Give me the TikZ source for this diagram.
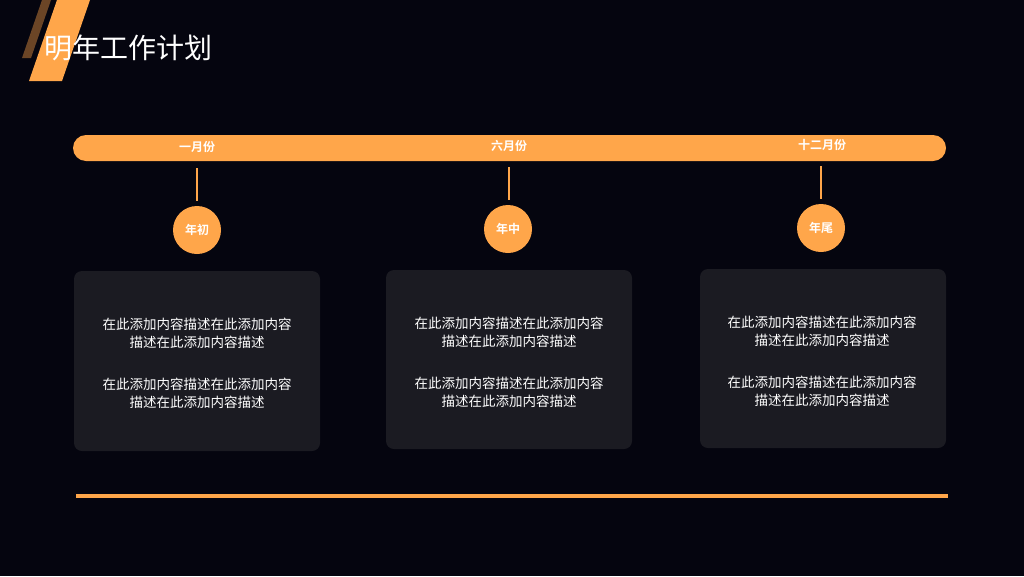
\documentclass[tikz,border=0pt]{standalone}
\usepackage{fontspec}
\setmainfont{Noto Sans CJK SC}[BoldFont={* Bold}]
\definecolor{bgdark}{HTML}{05050F}
\definecolor{planorange}{HTML}{FFA64A}
\definecolor{planbrown}{HTML}{6B4526}
\definecolor{cardgray}{HTML}{1B1B22}

\begin{document}
\begin{tikzpicture}[x=1pt,y=-1pt]
		\tikzstyle {month label} = [text=white, font=\bfseries\fontsize{12}{14}\selectfont]
		\tikzstyle {stage dot} = [circle, fill=planorange, minimum size=48pt, inner sep=0pt, text=white, font=\bfseries\fontsize{12}{14}\selectfont]
		\tikzstyle {stem line} = [planorange, line width=1.2pt]
		\tikzstyle {card} = [fill=cardgray, rounded corners=8pt]
		\tikzstyle {card text} = [text=white, align=center, font=\fontsize{13.5}{18}\selectfont]

		\fill[bgdark] (0,0) rectangle (1024,576);
		\useasboundingbox (0,0) rectangle (1024,576);

		\fill[planbrown] (42,0) -- (51,0) -- (31,58) -- (22,58) -- cycle;
		\fill[planorange] (57,0) -- (90,0) -- (62,81) -- (29,81) -- cycle;
		\node[anchor=west, text=white, font=\fontsize{28}{32}\selectfont, inner sep=0pt] (title) at (44,48) {明年工作计划};

		\fill[planorange, rounded corners=13pt] (73,135) rectangle (946,161);
		\node[month label] (m1) at (197,147) {一月份};
		\node[month label] (m6) at (509,146) {六月份};
		\node[month label] (m12) at (822,145) {十二月份};

		\coordinate (s1) at (197,168);
		\coordinate (s6) at (509,167);
		\coordinate (s12) at (821,166);
		\coordinate (e1) at (197,201);
		\coordinate (e6) at (509,200);
		\coordinate (e12) at (821,199);

		\node[stage dot] (d1) at (197,230) {年初};
		\node[stage dot] (d6) at (508,229) {年中};
		\node[stage dot] (d12) at (821,228) {年尾};

		\draw[stem line] (s1) -- (e1);
		\draw[stem line] (s6) -- (e6);
		\draw[stem line] (s12) -- (e12);

		\fill[card] (74,271) rectangle (320,451);
		\fill[card] (386,270) rectangle (632,449);
		\fill[card] (700,269) rectangle (946,448);

		\node[card text] (t1a) at (197,333) {在此添加内容描述在此添加内容\\描述在此添加内容描述};
		\node[card text] (t1b) at (197,393) {在此添加内容描述在此添加内容\\描述在此添加内容描述};
		\node[card text] (t6a) at (509,332) {在此添加内容描述在此添加内容\\描述在此添加内容描述};
		\node[card text] (t6b) at (509,392) {在此添加内容描述在此添加内容\\描述在此添加内容描述};
		\node[card text] (t12a) at (822,331) {在此添加内容描述在此添加内容\\描述在此添加内容描述};
		\node[card text] (t12b) at (822,391) {在此添加内容描述在此添加内容\\描述在此添加内容描述};

		\draw[planorange, line width=3.5pt] (76,496) -- (948,496);
	\end{tikzpicture}
\end{document}
